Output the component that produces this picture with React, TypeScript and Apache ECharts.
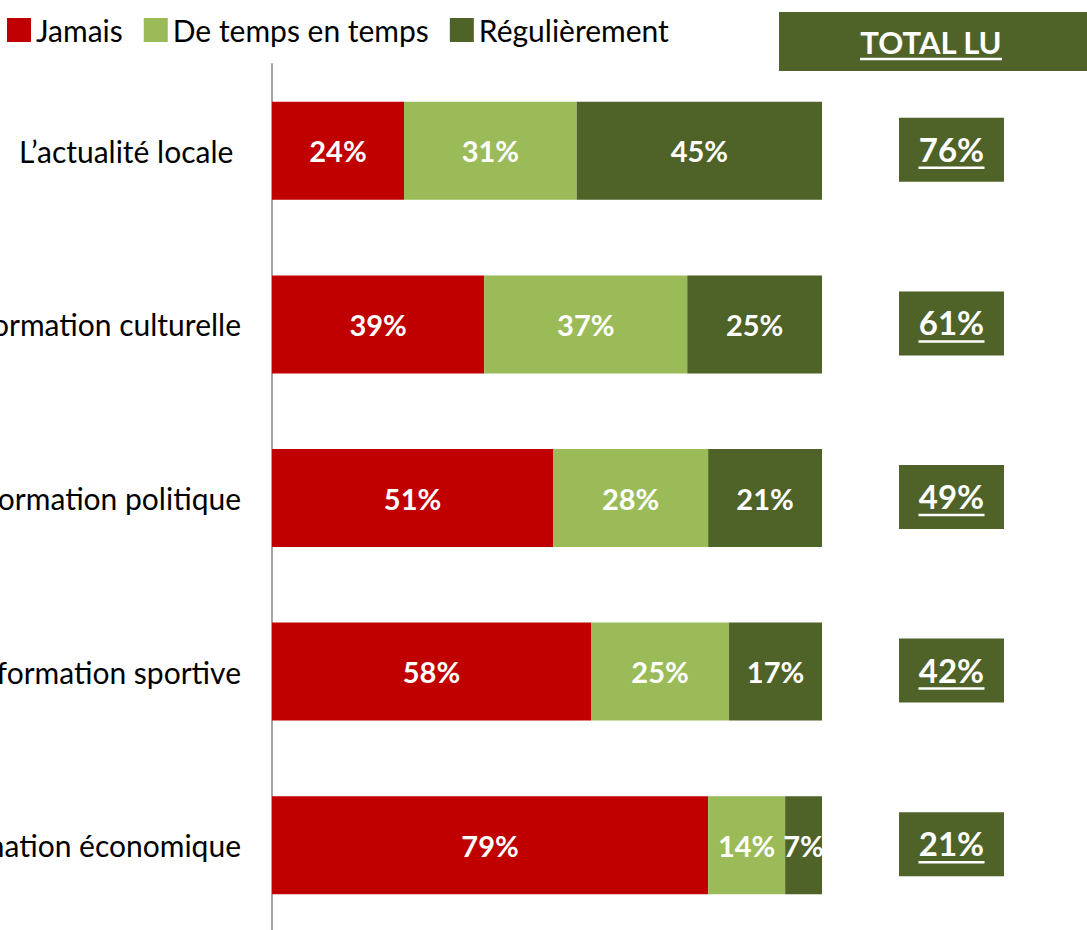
import React, { useEffect, useRef } from "react";
import * as echarts from "echarts";

const categories = [
  "L’actualité locale ",
  "L’information culturelle",
  "L’information politique",
  "L’information sportive",
  "L’information économique",
];
const jamais = [24, 38.6, 51.1, 58, 79.3];
const deTempsEnTemps = [31.4, 36.9, 28.2, 25.1, 14];
const regulierement = [44.6, 24.5, 20.7, 16.9, 6.7];
const totalLu = [76, 61, 49, 42, 21];
const seriesNames = ["Jamais", "De temps en temps", "Régulièrement"];
const colors = ["#C00000", "#9BBB59", "#4F6228"];

const FONT = "Lato, 'Open Sans', sans-serif";

export default function App() {
  const ref = useRef<HTMLDivElement>(null);
  useEffect(() => {
    if (!ref.current) return;
    const chart = echarts.init(ref.current, null, { renderer: "svg" });
    const barLabel = {
      show: true,
      position: "inside",
      color: "#fff",
      fontWeight: "bold",
      fontSize: 29,
      fontFamily: FONT,
      formatter: (p: any) => Math.round(p.value) + "%",
    };
    const values = [jamais, deTempsEnTemps, regulierement];
    chart.setOption({
      animation: false,
      textStyle: { fontFamily: FONT },
      legend: {
        left: 7,
        top: 15,
        padding: 0,
        itemWidth: 24,
        itemHeight: 24,
        itemGap: 21,
        icon: "rect",
        textStyle: { fontSize: 30, color: "#000", fontFamily: FONT, padding: [0, 0, 3, 0] },
        data: seriesNames,
      },
      grid: [
        { left: 272, width: 550, top: 64, height: 868, outerBoundsMode: "none", containLabel: false },
        { left: 899, width: 105, top: 64, height: 868, outerBoundsMode: "none", containLabel: false },
      ],
      xAxis: [
        { type: "value", min: 0, max: 100, show: false, gridIndex: 0 },
        { type: "value", min: 0, max: 1, show: false, gridIndex: 1 },
      ],
      yAxis: [
        {
          type: "category",
          data: categories,
          inverse: true,
          gridIndex: 0,
          axisLine: { show: true, lineStyle: { color: "#A6A6A6", width: 2 } },
          axisTick: { show: false },
          axisLabel: {
            fontSize: 30,
            color: "#000",
            margin: 31,
            fontFamily: FONT,
          },
        },
        {
          type: "category",
          data: categories,
          inverse: true,
          gridIndex: 1,
          show: false,
        },
      ],
      series: [
        ...seriesNames.map((name, k) => ({
          name,
          type: "bar",
          stack: "total",
          barWidth: 98,
          xAxisIndex: 0,
          yAxisIndex: 0,
          itemStyle: { color: colors[k] },
          label: barLabel,
          data: values[k],
        })),
        {
          type: "custom",
          xAxisIndex: 1,
          yAxisIndex: 1,
          data: totalLu.map((v, i) => [i, v]),
          encode: { y: 0 },
          renderItem: (params: any, api: any) => {
            const i = api.value(0);
            const v = api.value(1);
            const p0 = api.coord([0, i]);
            const p1 = api.coord([1, i]);
            const cx = (p0[0] + p1[0]) / 2;
            const cy = p0[1] - 1;
            return {
              type: "group",
              children: [
                {
                  type: "rect",
                  shape: { x: p0[0], y: cy - 32, width: p1[0] - p0[0], height: 64 },
                  style: { fill: "#4F6228" },
                },
                {
                  type: "text",
                  style: {
                    text: v + "%",
                    x: cx,
                    y: cy - 1,
                    align: "center",
                    verticalAlign: "middle",
                    fill: "#fff",
                    fontSize: 33,
                    fontWeight: "bold",
                    fontFamily: FONT,
                  },
                },
                {
                  type: "line",
                  shape: { x1: cx - 33, y1: cy + 18, x2: cx + 33, y2: cy + 18 },
                  style: { stroke: "#fff", lineWidth: 2.5 },
                },
              ],
            };
          },
        },
      ],
      graphic: [
        {
          type: "rect",
          shape: { x: 779, y: 12, width: 320, height: 59 },
          style: { fill: "#4F6228" },
        },
        {
          type: "text",
          style: {
            text: "TOTAL LU",
            x: 931,
            y: 42,
            align: "center",
            verticalAlign: "middle",
            fill: "#fff",
            fontSize: 31,
            fontWeight: "bold",
            fontFamily: FONT,
          },
        },
        {
          type: "line",
          shape: { x1: 860, y1: 59, x2: 1002, y2: 59 },
          style: { stroke: "#fff", lineWidth: 2.5 },
        },
      ],
    });
    return () => chart.dispose();
  }, []);
  return (
    <div
      ref={ref}
      style={{ position: "absolute", left: 0, top: 0, width: 1087, height: 930 }}
    />
  );
}
